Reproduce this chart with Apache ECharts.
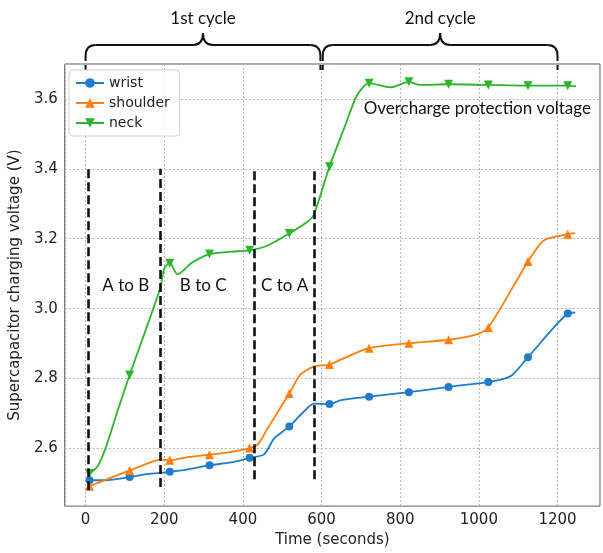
<!DOCTYPE html>
<html>
<head>
<meta charset="utf-8">
<script src="https://cdn.jsdelivr.net/npm/echarts@6/dist/echarts.min.js"></script>
<style>
html, body { margin: 0; padding: 0; background: #fff; }
#main { width: 603px; height: 553px; }
</style>
</head>
<body>
<div id="main"></div>
<script>
// times (s) where the markers sit
const markT = [10, 112, 214, 315, 417, 518, 620, 721, 822, 923, 1024, 1125, 1226];

const wristT = [10, 50, 112, 150, 190, 214, 260, 315, 370, 417, 454, 479, 518, 550, 581, 620, 650, 721, 822, 923, 1024, 1060, 1085, 1125, 1226, 1245];
const wristV = [2.509, 2.509, 2.518, 2.526, 2.530, 2.533, 2.540, 2.552, 2.560, 2.573, 2.583, 2.628, 2.663, 2.700, 2.728, 2.727, 2.738, 2.748, 2.761, 2.776, 2.790, 2.798, 2.810, 2.861, 2.986, 2.989];

const shoulderT = [10, 112, 160, 190, 214, 260, 315, 370, 417, 439, 462, 518, 546, 581, 620, 660, 721, 822, 923, 990, 1024, 1125, 1166, 1226, 1245];
const shoulderV = [2.492, 2.537, 2.558, 2.568, 2.566, 2.575, 2.582, 2.590, 2.601, 2.613, 2.656, 2.757, 2.811, 2.835, 2.840, 2.860, 2.887, 2.901, 2.911, 2.925, 2.946, 3.135, 3.196, 3.213, 3.216];

const neckT = [10, 30, 50, 80, 112, 150, 190, 200, 214, 234, 270, 315, 370, 417, 462, 518, 563, 580, 620, 657, 690, 721, 775, 822, 850, 923, 1024, 1125, 1226, 1247];
const neckV = [2.528, 2.548, 2.598, 2.703, 2.810, 2.930, 3.060, 3.115, 3.130, 3.098, 3.131, 3.156, 3.163, 3.167, 3.180, 3.215, 3.248, 3.268, 3.406, 3.515, 3.610, 3.645, 3.633, 3.649, 3.640, 3.642, 3.640, 3.638, 3.638, 3.636];

// phase separators (dashed black lines) and their labels
const phaseT = [8, 189, 430, 581];
const phaseBottom = [2.48, 2.49, 2.512, 2.512];
const phaseTop = 3.40;
const phaseLabels = ['A to B', 'B to C', 'C to A'];
const phaseLabelT = [102, 299, 506];
const phaseLabelV = 3.065;

const cycleLabels = ['1st cycle', '2nd cycle'];
const cycleSpans = [[0, 597], [603, 1200]];

const noteText = 'Overcharge protection voltage';
const notePos = [707, 3.574];

function toData(ts, vs) {
  return ts.map((t, i) => markT.includes(t)
    ? { value: [t, vs[i]] }
    : { value: [t, vs[i]], symbol: 'none' });
}

const tickFont = { fontFamily: 'DejaVu Sans', fontSize: 15, color: '#222' };
const gridLine = { show: true, lineStyle: { color: '#b5b5b5', type: [2, 2], width: 1 } };

let chart = echarts.init(document.getElementById('main'));

const option = {
  animation: false,
  backgroundColor: '#fff',
  grid: { left: 62, right: -1, top: 64, bottom: 41, show: true, borderColor: '#555', borderWidth: 1 },
  xAxis: {
    type: 'value',
    min: -53,
    max: 1308,
    splitNumber: 7,
    name: 'Time (seconds)',
    nameLocation: 'middle',
    nameGap: 25,
    nameTextStyle: tickFont,
    axisLine: { show: false },
    axisTick: { show: false },
    axisLabel: {
      margin: 7,
      ...tickFont,
      formatter: v => (Math.abs(v % 200) < 1e-6 ? String(v) : '')
    },
    splitLine: gridLine
  },
  yAxis: {
    type: 'value',
    min: 2.435,
    max: 3.70,
    splitNumber: 6,
    name: 'Supercapacitor charging voltage (V)',
    nameLocation: 'middle',
    nameGap: 31,
    nameTextStyle: tickFont,
    axisLine: { show: false },
    axisTick: { show: false },
    axisLabel: {
      margin: 7,
      ...tickFont,
      formatter: v => (Math.abs(v * 5 - Math.round(v * 5)) < 1e-6 ? v.toFixed(1) : '')
    },
    splitLine: gridLine
  },
  legend: {
    orient: 'vertical',
    left: 69,
    top: 70,
    itemGap: 6,
    itemWidth: 28,
    itemHeight: 12,
    padding: [6, 10, 6, 6],
    borderColor: '#d0d0d0',
    borderWidth: 1,
    borderRadius: 4,
    backgroundColor: 'rgba(255,255,255,0.85)',
    textStyle: { fontFamily: 'DejaVu Sans', fontSize: 14, color: '#222' },
    data: ['wrist', 'shoulder', 'neck']
  },
  series: [
    {
      name: 'wrist',
      type: 'line',
      data: toData(wristT, wristV),
      smooth: 0.25,
      symbol: 'circle',
      symbolSize: 8,
      color: '#1f7ccc',
      lineStyle: { width: 1.8 },
      markLine: {
        silent: true,
        symbol: 'none',
        label: { show: false },
        lineStyle: { color: '#111', type: [9, 4], width: 2.6 },
        data: phaseT.map((t, i) => [{ coord: [t, phaseBottom[i]] }, { coord: [t, phaseTop] }])
      }
    },
    {
      name: 'shoulder',
      type: 'line',
      data: toData(shoulderT, shoulderV),
      smooth: 0.25,
      symbol: 'triangle',
      symbolSize: 9,
      color: '#ff7f0e',
      lineStyle: { width: 1.8 }
    },
    {
      name: 'neck',
      type: 'line',
      data: toData(neckT, neckV),
      smooth: 0.25,
      symbol: 'triangle',
      symbolRotate: 180,
      symbolSize: 9,
      color: '#2cb52c',
      lineStyle: { width: 1.8 }
    }
  ]
};

chart.setOption(option);

// annotations placed through the axes
const px = t => chart.convertToPixel({ xAxisIndex: 0 }, t);
const pt = (t, v) => chart.convertToPixel({ xAxisIndex: 0, yAxisIndex: 0 }, [t, v]);
const plotTop = 64;
const annoFont = 'Lato';
const braceStyle = { stroke: '#111', lineWidth: 2, fill: null };
let graphics = [];

cycleSpans.forEach((span, i) => {
  const x1 = px(span[0]);
  const x2 = px(span[1]);
  const xm = (x1 + x2) / 2;
  const yb = 45, yt = 33, ye = 56, r = 10;
  const curves = [
    [x1, ye, x1 + r, yb, x1, yb],
    [xm - r, yb, xm, yt, xm, yb],
    [xm, yt, xm + r, yb, xm, yb],
    [x2 - r, yb, x2, ye, x2, yb]
  ];
  curves.forEach(c => graphics.push({
    type: 'bezierCurve',
    shape: { x1: c[0], y1: c[1], x2: c[2], y2: c[3], cpx1: c[4], cpy1: c[5] },
    style: braceStyle
  }));
  [[x1 + r, xm - r], [xm + r, x2 - r]].forEach(s => graphics.push({
    type: 'line',
    shape: { x1: s[0], y1: yb, x2: s[1], y2: yb },
    style: braceStyle
  }));
  [x1, x2].forEach(x => {
    graphics.push({
      type: 'line',
      shape: { x1: x, y1: ye, x2: x, y2: plotTop + 6 },
      style: { stroke: '#111', lineWidth: 2, lineDash: [5, 4] }
    });
  });
  graphics.push({
    type: 'text',
    x: xm,
    y: 19,
    style: { text: cycleLabels[i], font: `17px ${annoFont}`, fill: '#111', align: 'center', verticalAlign: 'middle' }
  });
});

phaseLabels.forEach((lab, i) => {
  const p = pt(phaseLabelT[i], phaseLabelV);
  graphics.push({
    type: 'text',
    x: p[0],
    y: p[1],
    style: { text: lab, font: `17px ${annoFont}`, fill: '#111', align: 'center', verticalAlign: 'middle' }
  });
});

const np = pt(notePos[0], notePos[1]);
graphics.push({
  type: 'text',
  x: np[0],
  y: np[1],
  style: { text: noteText, font: `17px ${annoFont}`, fill: '#111', align: 'left', verticalAlign: 'middle' }
});

chart.setOption({ graphic: graphics });
</script>
</body>
</html>
